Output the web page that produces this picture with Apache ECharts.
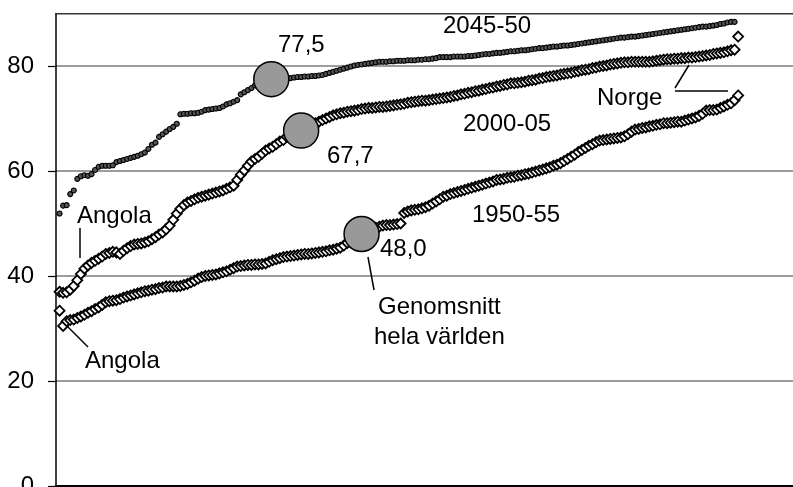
<!DOCTYPE html>
<html>
<head>
<meta charset="utf-8">
<script src="https://cdn.jsdelivr.net/npm/echarts@6/dist/echarts.min.js"></script>
<style>
html,body{margin:0;padding:0;background:#fff;}
#chart{width:793px;height:487px;}
</style>
</head>
<body>
<div id="chart"></div>
<script>
// Life expectancy per country, countries ranked (rank 1 = lowest)
const yTicks = [0, 20, 40, 60, 80];

const v1950_55 = [
33.4,30.5,31.4,31.6,31.7,32.0,32.3,32.6,33.0,33.3,
33.7,34.0,34.5,35.0,35.2,35.3,35.4,35.6,35.9,36.1,
36.3,36.5,36.7,36.9,37.1,37.2,37.4,37.5,37.7,37.8,
38.0,38.0,38.0,38.0,38.1,38.3,38.5,38.8,39.1,39.5,
39.8,40.0,40.1,40.2,40.3,40.5,40.7,40.9,41.2,41.5,
41.8,41.9,42.0,42.1,42.1,42.2,42.2,42.3,42.4,42.7,
43.0,43.2,43.4,43.6,43.7,43.8,43.9,44.0,44.1,44.2,
44.2,44.3,44.4,44.5,44.6,44.7,44.9,45.0,45.2,45.4,
45.8,46.3,46.8,47.2,47.6,48.0,48.3,48.6,48.9,49.2,
49.4,49.6,49.7,49.7,49.8,49.9,50.0,52.0,52.3,52.5,
52.6,52.7,52.9,53.1,53.4,53.8,54.2,54.6,55.1,55.3,
55.6,55.8,56.0,56.2,56.4,56.6,56.8,57.0,57.2,57.4,
57.6,57.8,58.0,58.3,58.4,58.5,58.7,58.8,58.9,59.1,
59.2,59.4,59.5,59.7,59.9,60.1,60.3,60.5,60.7,61.0,
61.2,61.5,61.9,62.3,62.7,63.1,63.6,64.0,64.4,64.8,
65.1,65.5,65.8,65.9,66.0,66.1,66.2,66.3,66.4,66.6,
67.0,67.5,67.9,68.0,68.2,68.3,68.5,68.6,68.8,68.9,
69.1,69.1,69.2,69.3,69.4,69.4,69.6,69.8,70.0,70.2,
70.5,70.9,71.5,71.6,71.6,71.7,72.0,72.3,72.6,72.9,
73.5,74.4
];

const v2000_05 = [
37.0,36.8,36.9,37.4,38.1,39.2,40.4,41.4,42.0,42.5,
42.9,43.3,43.7,44.2,44.4,44.6,44.5,44.2,44.8,45.3,
45.7,46.0,46.1,46.2,46.4,46.6,47.0,47.4,47.9,48.3,
48.9,49.6,50.7,51.9,52.8,53.5,54.0,54.3,54.6,54.9,
55.1,55.3,55.5,55.7,55.9,56.1,56.3,56.6,56.9,57.2,
58.3,59.3,60.1,61.0,61.8,62.3,62.7,63.3,63.9,64.3,
64.6,65.1,65.6,65.9,66.5,66.9,67.2,67.5,67.7,68.1,
68.5,68.8,69.1,69.4,69.7,70.0,70.3,70.6,70.8,71.0,
71.1,71.3,71.4,71.5,71.6,71.8,71.9,72.0,72.0,72.1,
72.2,72.2,72.3,72.4,72.5,72.6,72.7,72.8,73.0,73.1,
73.2,73.3,73.4,73.4,73.5,73.6,73.7,73.8,73.9,74.0,
74.1,74.3,74.4,74.6,74.7,74.9,75.0,75.2,75.3,75.5,
75.6,75.8,75.9,76.1,76.2,76.4,76.5,76.7,76.7,76.8,
76.9,77.0,77.2,77.3,77.4,77.6,77.7,77.9,78.0,78.1,
78.2,78.4,78.5,78.6,78.7,78.9,79.0,79.2,79.3,79.4,
79.6,79.7,79.9,80.0,80.1,80.3,80.4,80.5,80.6,80.7,
80.7,80.8,80.8,80.8,80.8,80.8,80.8,80.9,81.0,81.1,
81.2,81.3,81.3,81.4,81.4,81.5,81.5,81.6,81.6,81.7,
81.8,81.9,82.0,82.1,82.3,82.4,82.5,82.6,82.8,83.0,
83.1,85.6
];

const v2045_50 = [
51.9,53.4,53.5,55.6,56.3,58.5,59.0,59.2,59.1,59.4,
60.2,60.8,61.0,61.0,61.0,61.1,61.7,61.9,62.1,62.3,
62.5,62.7,62.9,63.2,63.5,64.2,65.0,65.4,66.5,67.0,
67.5,68.0,68.4,69.0,70.8,70.9,70.9,71.0,71.0,71.1,
71.3,71.6,71.7,71.8,71.9,72.0,72.3,72.7,72.9,73.2,
73.5,74.6,75.0,75.4,75.8,76.3,76.7,77.0,77.2,77.4,
77.5,77.5,77.6,77.6,77.6,77.7,77.8,77.9,77.9,78.0,
78.0,78.1,78.1,78.2,78.3,78.5,78.7,78.9,79.1,79.3,
79.5,79.7,79.9,80.1,80.2,80.3,80.4,80.5,80.6,80.7,
80.8,80.8,80.8,80.9,80.9,81.0,81.0,81.0,81.1,81.1,
81.1,81.2,81.2,81.3,81.3,81.4,81.5,81.7,81.7,81.7,
81.7,81.8,81.8,81.8,81.8,81.9,81.9,82.0,82.1,82.2,
82.3,82.3,82.4,82.5,82.5,82.6,82.7,82.8,82.8,82.9,
83.0,83.0,83.1,83.2,83.3,83.4,83.4,83.5,83.6,83.7,
83.7,83.8,83.9,83.9,84.0,84.1,84.2,84.3,84.4,84.5,
84.6,84.7,84.8,84.9,85.0,85.1,85.2,85.3,85.4,85.4,
85.5,85.6,85.6,85.7,85.8,85.9,86.0,86.1,86.2,86.3,
86.4,86.5,86.6,86.7,86.8,86.9,87.0,87.1,87.2,87.3,
87.4,87.5,87.5,87.6,87.7,87.8,88.0,88.1,88.3,88.4,
88.4
];

// World averages: rank position where the average falls, and value
const avgRank  = [86, 69, 60.6];
const avgValue = [48.0, 67.7, 77.5];
const avgLabel = ['48,0', '67,7', '77,5'];

const FONT = '"Liberation Sans", Arial, sans-serif';
const toPts = arr => arr.map((v, i) => [i + 1, v]);

const chart = echarts.init(document.getElementById('chart'), null, {renderer: 'canvas'});

const txt = (x, y, s, align) => ({
  type: 'text', x: x, y: y, z: 100,
  style: {text: s, font: '24px ' + FONT, fill: '#000', align: align || 'left', verticalAlign: 'middle'}
});
const ln = (x1, y1, x2, y2) => ({
  type: 'line', z: 100,
  shape: {x1: x1, y1: y1, x2: x2, y2: y2},
  style: {stroke: '#000', lineWidth: 1.5}
});

const option = {
  animation: false,
  backgroundColor: '#fff',
  grid: {left: 56, right: -2, top: 13.5, bottom: 1, containLabel: false, outerBoundsMode: 'none'},
  xAxis: [
    {type: 'value', min: 0, max: 208, position: 'bottom',
     axisLine: {show: true, onZero: false, lineStyle: {color: '#000', width: 2}},
     axisTick: {show: false}, axisLabel: {show: false}, splitLine: {show: false}},
    {type: 'value', min: 0, max: 208, position: 'top', z: 5,
     axisLine: {show: true, onZero: false, lineStyle: {color: '#333', width: 1.2}},
     axisTick: {show: false}, axisLabel: {show: false}, splitLine: {show: false}}
  ],
  yAxis: {
    type: 'value', min: yTicks[0], max: 90, interval: 20,
    axisLine: {show: true, onZero: false, lineStyle: {color: '#000', width: 1.5}},
    axisTick: {show: true, length: 8, lineStyle: {color: '#000', width: 1.2}},
    axisLabel: {show: true, showMaxLabel: false, margin: 22, color: '#000', fontSize: 24, fontFamily: FONT},
    splitLine: {show: true, lineStyle: {color: '#9c9c9c', width: 2}}
  },
  series: [
    {name: '1950-55', type: 'scatter', data: toPts(v1950_55), symbol: 'diamond', symbolSize: 10,
     itemStyle: {color: '#fff', borderColor: '#000', borderWidth: 1.8, opacity: 1}, z: 3},
    {name: '2000-05', type: 'scatter', data: toPts(v2000_05), symbol: 'diamond', symbolSize: 10,
     itemStyle: {color: '#fff', borderColor: '#000', borderWidth: 1.8, opacity: 1}, z: 3},
    {name: '2045-50', type: 'scatter', data: toPts(v2045_50), symbol: 'circle', symbolSize: 5,
     itemStyle: {color: '#555', borderColor: '#000', borderWidth: 1.1, opacity: 1}, z: 3},
    {name: 'Genomsnitt', type: 'scatter', data: avgRank.map((r, i) => [r, avgValue[i]]),
     symbol: 'circle', symbolSize: 35,
     itemStyle: {color: '#999999', borderColor: '#000', borderWidth: 1.5, opacity: 1}, z: 4}
  ],
  graphic: [
    txt(443, 26, '2045-50'),
    txt(278, 45, avgLabel[2]),
    txt(327, 156, avgLabel[1]),
    txt(463, 124, '2000-05'),
    txt(597, 98, 'Norge'),
    txt(472, 215, '1950-55'),
    txt(380, 249, avgLabel[0]),
    txt(378, 307, 'Genomsnitt'),
    txt(374, 337, 'hela världen'),
    txt(77, 216, 'Angola'),
    txt(85, 361, 'Angola'),
    ln(80, 228, 80, 258),
    ln(68, 327, 88, 347),
    ln(368, 257, 374, 290),
    ln(675, 88, 689, 65),
    ln(675, 91, 728, 91)
  ]
};
chart.setOption(option);
</script>
</body>
</html>
